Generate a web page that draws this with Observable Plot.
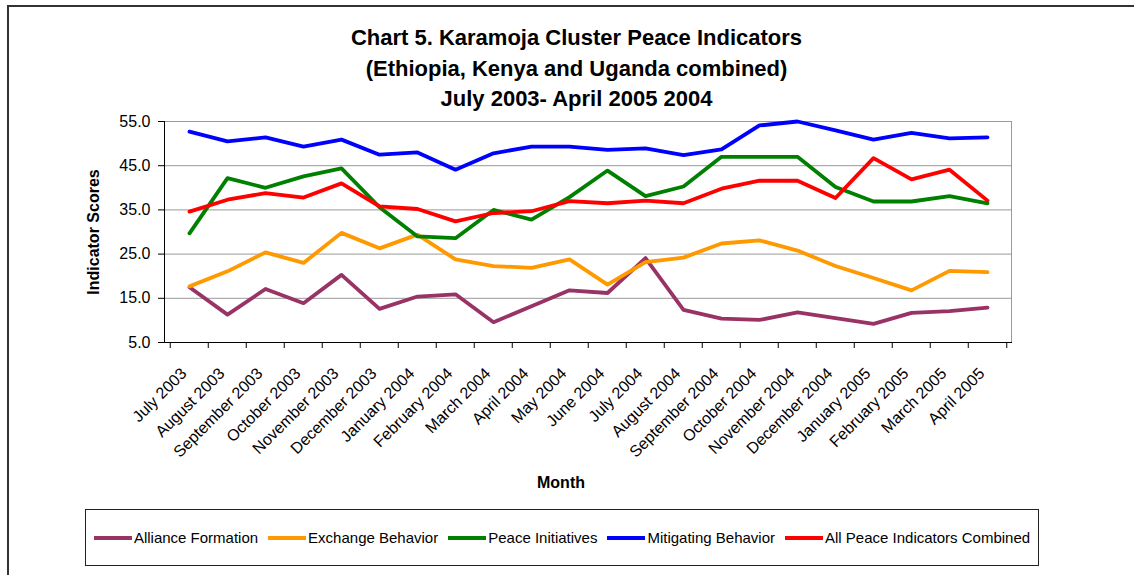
<!DOCTYPE html>
<html>
<head>
<meta charset="utf-8">
<script src="https://cdn.jsdelivr.net/npm/d3@7"></script>
<script src="https://cdn.jsdelivr.net/npm/@observablehq/plot@0.6"></script>
<style>
  html, body { margin: 0; padding: 0; background: #fff; }
  body { width: 1134px; height: 575px; position: relative; overflow: hidden; font-family: "Liberation Sans", Arial, sans-serif; }
  #frame { position: absolute; left: 7px; top: 5px; width: 1200px; height: 700px; border-top: 2px solid #333; border-left: 2px solid #333; }
  #title { position: absolute; left: 10px; width: 1133px; top: 23px; text-align: center; font-weight: bold; font-size: 22px; line-height: 30.5px; color: #000; }
  #chart { position: absolute; left: 0; top: 110px; }
  #legend { position: absolute; left: 85px; top: 509px; width: 952px; height: 55px; border: 1px solid #222; display: flex; align-items: center; justify-content: center; font-size: 15px; color: #000; }
  .item { display: flex; align-items: center; margin: 0 5px; }
  .sw { display: inline-block; width: 38px; height: 4px; margin-right: 2px; }
</style>
</head>
<body>
<div id="frame"></div>
<div id="title">Chart 5. Karamoja Cluster Peace Indicators<br>(Ethiopia, Kenya and Uganda combined)<br>July 2003- April 2005 2004</div>
<div id="chart"></div>
<div id="legend"></div>
<script>
const months = ["July 2003","August 2003","September 2003","October 2003","November 2003","December 2003","January 2004","February 2004","March 2004","April 2004","May 2004","June 2004","July 2004","August 2004","September 2004","October 2004","November 2004","December 2004","January 2005","February 2005","March 2005","April 2005"];
const seriesNames = ["Alliance Formation","Exchange Behavior","Peace Initiatives","Mitigating Behavior","All Peace Indicators Combined"];
const seriesColors = ["#993366","#FF9900","#008000","#0000FF","#FF0000"];
const allianceFormation = [17.5,11.3,17.1,13.9,20.3,12.6,15.4,15.9,9.6,13.2,16.8,16.2,24.1,12.4,10.4,10.1,11.8,10.5,9.2,11.7,12.1,12.9];
const exchangeBehavior = [17.7,21.1,25.4,23.0,29.8,26.3,29.4,23.8,22.3,21.9,23.8,18.1,23.2,24.2,27.4,28.1,25.8,22.3,19.6,16.8,21.2,20.9];
const peaceInitiatives = [29.7,42.2,40.0,42.6,44.4,35.6,29.0,28.6,35.0,32.8,37.9,43.9,38.1,40.3,47.0,47.0,47.0,40.2,36.9,36.9,38.1,36.5];
const mitigatingBehavior = [52.7,50.5,51.4,49.3,50.9,47.5,48.0,44.1,47.8,49.3,49.3,48.6,48.9,47.4,48.7,54.1,55.0,53.0,50.9,52.4,51.2,51.4];
const allCombined = [34.6,37.3,38.8,37.8,41.0,35.8,35.2,32.4,34.3,34.7,37.0,36.5,37.1,36.5,39.8,41.6,41.6,37.7,46.7,41.9,44.1,37.1];
const yTicks = [5,15,25,35,45,55];
const gridTicks = [15,25,35,45,55];

const seriesValues = [allianceFormation, exchangeBehavior, peaceInitiatives, mitigatingBehavior, allCombined];
const data = [];
seriesNames.forEach((name, s) => months.forEach((m, i) => data.push({series: name, month: m, value: seriesValues[s][i]})));

const W = 1134, H = 390, mL = 164, mR = 123, mT = 11, mB = 158;
const half = (W - mL - mR) / months.length / 2;

const chart = Plot.plot({
  width: W, height: H,
  marginLeft: mL, marginRight: mR, marginTop: mT, marginBottom: mB,
  style: {fontFamily: "Liberation Sans, Arial, sans-serif", fontSize: "16px", color: "#000", background: "transparent"},
  x: {type: "point", domain: months, padding: 0.5, label: null},
  y: {domain: [5, 55], label: null},
  color: {domain: seriesNames, range: seriesColors},
  marks: [
    Plot.gridY(gridTicks, {stroke: "#999", strokeOpacity: 1, strokeWidth: 1}),
    Plot.frame({anchor: "right", stroke: "#999", strokeWidth: 1}),
    Plot.frame({anchor: "left", stroke: "#000", strokeWidth: 1}),
    Plot.frame({anchor: "bottom", stroke: "#000", strokeWidth: 1}),
    Plot.axisY(yTicks, {tickFormat: d => d.toFixed(1), tickSize: 6, tickPadding: 8, fontSize: 16, stroke: "#000", label: null}),
    Plot.axisX(months, {tickSize: 6, tickFormat: () => "", dx: -half, label: null}),
    Plot.axisX([months[months.length - 1]], {tickSize: 6, tickFormat: () => "", dx: half, label: null}),
    Plot.text(months, {x: d => d, frameAnchor: "bottom", rotate: -45, textAnchor: "end", lineAnchor: "top", dx: -10, dy: 24, fontSize: 16}),
    Plot.text(["Month"], {frameAnchor: "bottom", dx: -27, dy: 145, fontWeight: "bold", fontSize: 16}),
    Plot.text(["Indicator Scores"], {frameAnchor: "left", rotate: -90, textAnchor: "middle", dx: -71, fontWeight: "bold", fontSize: 16}),
    Plot.line(data, {x: "month", y: "value", z: "series", stroke: "series", strokeWidth: 3.8, strokeLinejoin: "round", strokeLinecap: "round"})
  ]
});
document.getElementById("chart").appendChild(chart);

const legend = document.getElementById("legend");
seriesNames.forEach((name, i) => {
  const it = document.createElement("div");
  it.className = "item";
  const sw = document.createElement("span");
  sw.className = "sw";
  sw.style.background = seriesColors[i];
  const tx = document.createElement("span");
  tx.textContent = name;
  it.appendChild(sw); it.appendChild(tx);
  legend.appendChild(it);
});
</script>
</body>
</html>
